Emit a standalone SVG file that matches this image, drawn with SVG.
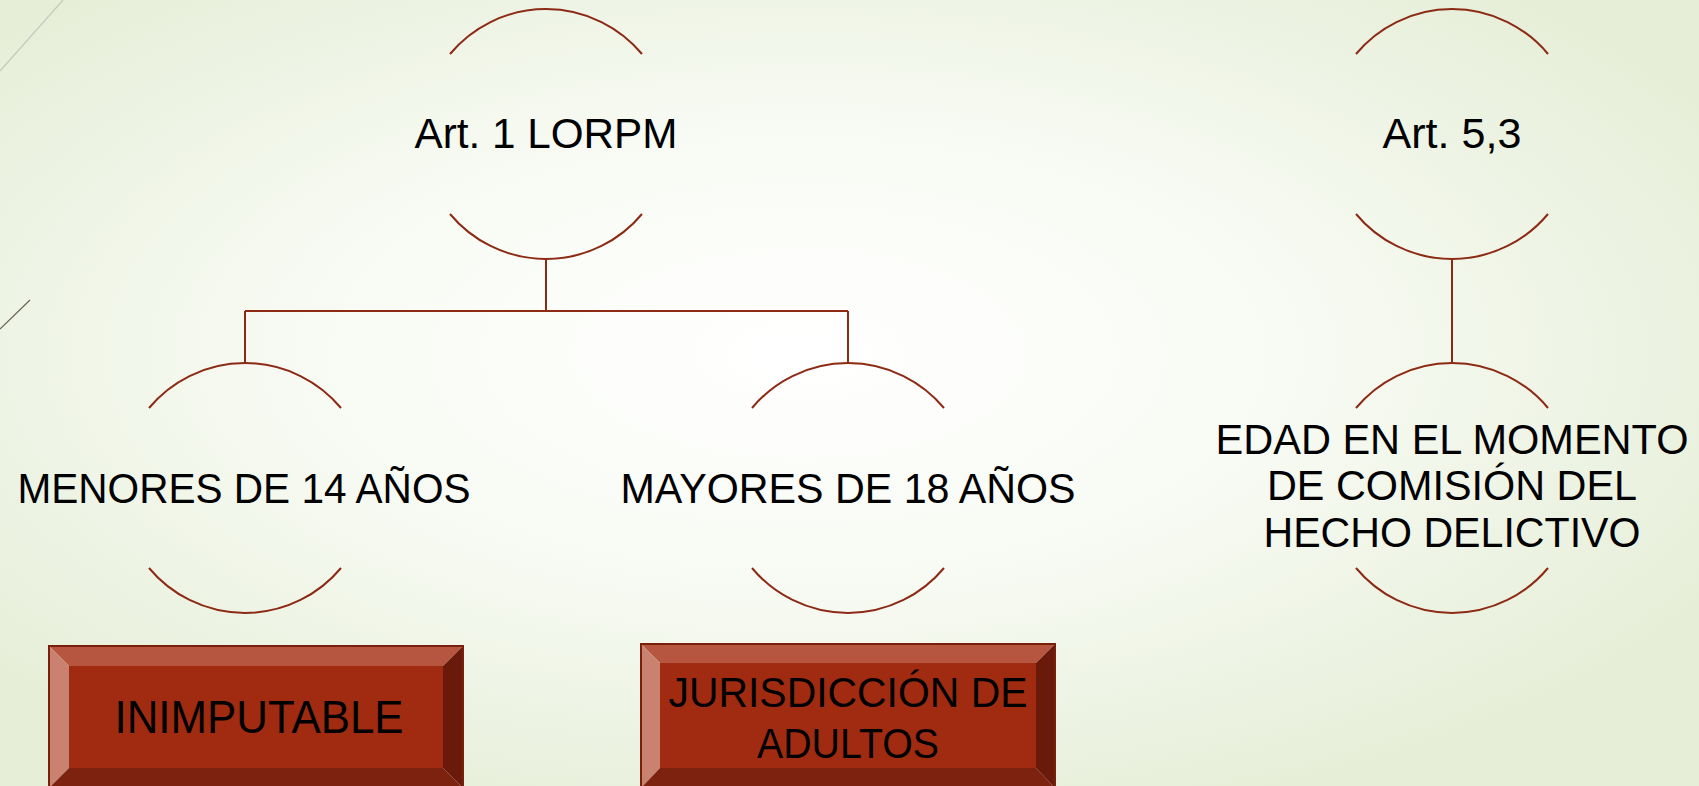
<svg xmlns="http://www.w3.org/2000/svg" width="1699" height="786" viewBox="0 0 1699 786">
<defs>
<radialGradient id="bg" cx="0.47" cy="0.45" r="0.62">
<stop offset="0" stop-color="#ffffff"/>
<stop offset="0.45" stop-color="#f8fbf4"/>
<stop offset="1" stop-color="#e6eed8"/>
</radialGradient>
<style>
.arc{fill:none;stroke:#8c2a14;stroke-width:2}
.con{fill:none;stroke:#8c2a14;stroke-width:2}
.t{font-family:"Liberation Sans",Arial,sans-serif;fill:#000;text-anchor:middle}
.bt{fill:#b65640}.bl{fill:#c8826f}.br{fill:#6a1a0a}.bb{fill:#7e2210}.bi{fill:#a02b10}
.bo{fill:none;stroke:#7a1f0c;stroke-width:2}
</style>
</defs>
<rect width="1699" height="786" fill="url(#bg)"/>
<line x1="0" y1="71" x2="63" y2="0" stroke="#c6c8bb" stroke-width="1.2"/>
<line x1="0" y1="329" x2="30" y2="300" stroke="#6b6455" stroke-width="1.2"/>

<g id="connectors">
<path class="con" d="M546,258 V311 M245,311 H848 M245,311 V363 M848,311 V363"/>
<path class="con" d="M1452,258 V363"/>
</g>

<g id="node-art1">
<path class="arc" d="M450,54 A125,125 0 0 1 642,54"/>
<path class="arc" d="M450,214 A125,125 0 0 0 642,214"/>
<text class="t" x="546" y="148" font-size="42" textLength="263" lengthAdjust="spacingAndGlyphs">Art. 1 LORPM</text>
</g>

<g id="node-menores">
<path class="arc" d="M149,408 A125,125 0 0 1 341,408"/>
<path class="arc" d="M149,568 A125,125 0 0 0 341,568"/>
<text class="t" x="244" y="503" font-size="42" textLength="453" lengthAdjust="spacingAndGlyphs">MENORES DE 14 AÑOS</text>
</g>

<g id="node-mayores">
<path class="arc" d="M752,408 A125,125 0 0 1 944,408"/>
<path class="arc" d="M752,568 A125,125 0 0 0 944,568"/>
<text class="t" x="848" y="503" font-size="42" textLength="455" lengthAdjust="spacingAndGlyphs">MAYORES DE 18 AÑOS</text>
</g>

<g id="node-art53">
<path class="arc" d="M1356,54 A125,125 0 0 1 1548,54"/>
<path class="arc" d="M1356,214 A125,125 0 0 0 1548,214"/>
<text class="t" x="1452" y="148" font-size="42" textLength="139" lengthAdjust="spacingAndGlyphs">Art. 5,3</text>
</g>

<g id="node-edad">
<path class="arc" d="M1356,408 A125,125 0 0 1 1548,408"/>
<path class="arc" d="M1356,568 A125,125 0 0 0 1548,568"/>
<text class="t" x="1452" y="454" font-size="43" textLength="473" lengthAdjust="spacingAndGlyphs">EDAD EN EL MOMENTO</text>
<text class="t" x="1452" y="500" font-size="43" textLength="370" lengthAdjust="spacingAndGlyphs">DE COMISIÓN DEL</text>
<text class="t" x="1452" y="547" font-size="43" textLength="377" lengthAdjust="spacingAndGlyphs">HECHO DELICTIVO</text>
</g>

<g id="node-inimputable">
<polygon class="bt" points="49,646 463,646 443,666 69,666"/>
<polygon class="bl" points="49,646 69,666 69,768 49,788"/>
<polygon class="br" points="463,646 463,788 443,768 443,666"/>
<polygon class="bb" points="49,788 463,788 443,768 69,768"/>
<rect class="bi" x="69" y="666" width="374" height="102"/>
<rect class="bo" x="49" y="646" width="414" height="142"/>
<text class="t" x="259" y="733" font-size="46" textLength="289" lengthAdjust="spacingAndGlyphs">INIMPUTABLE</text>
</g>

<g id="node-jurisdiccion">
<polygon class="bt" points="641,644 1055,644 1036,663 660,663"/>
<polygon class="bl" points="641,644 660,663 660,768 641,788"/>
<polygon class="br" points="1055,644 1055,788 1036,768 1036,663"/>
<polygon class="bb" points="641,788 1055,788 1036,768 660,768"/>
<rect class="bi" x="660" y="663" width="376" height="105"/>
<rect class="bo" x="641" y="644" width="414" height="144"/>
<text class="t" x="848" y="707" font-size="42" textLength="359" lengthAdjust="spacingAndGlyphs">JURISDICCIÓN DE</text>
<text class="t" x="848" y="758" font-size="42" textLength="182" lengthAdjust="spacingAndGlyphs">ADULTOS</text>
</g>
</svg>
